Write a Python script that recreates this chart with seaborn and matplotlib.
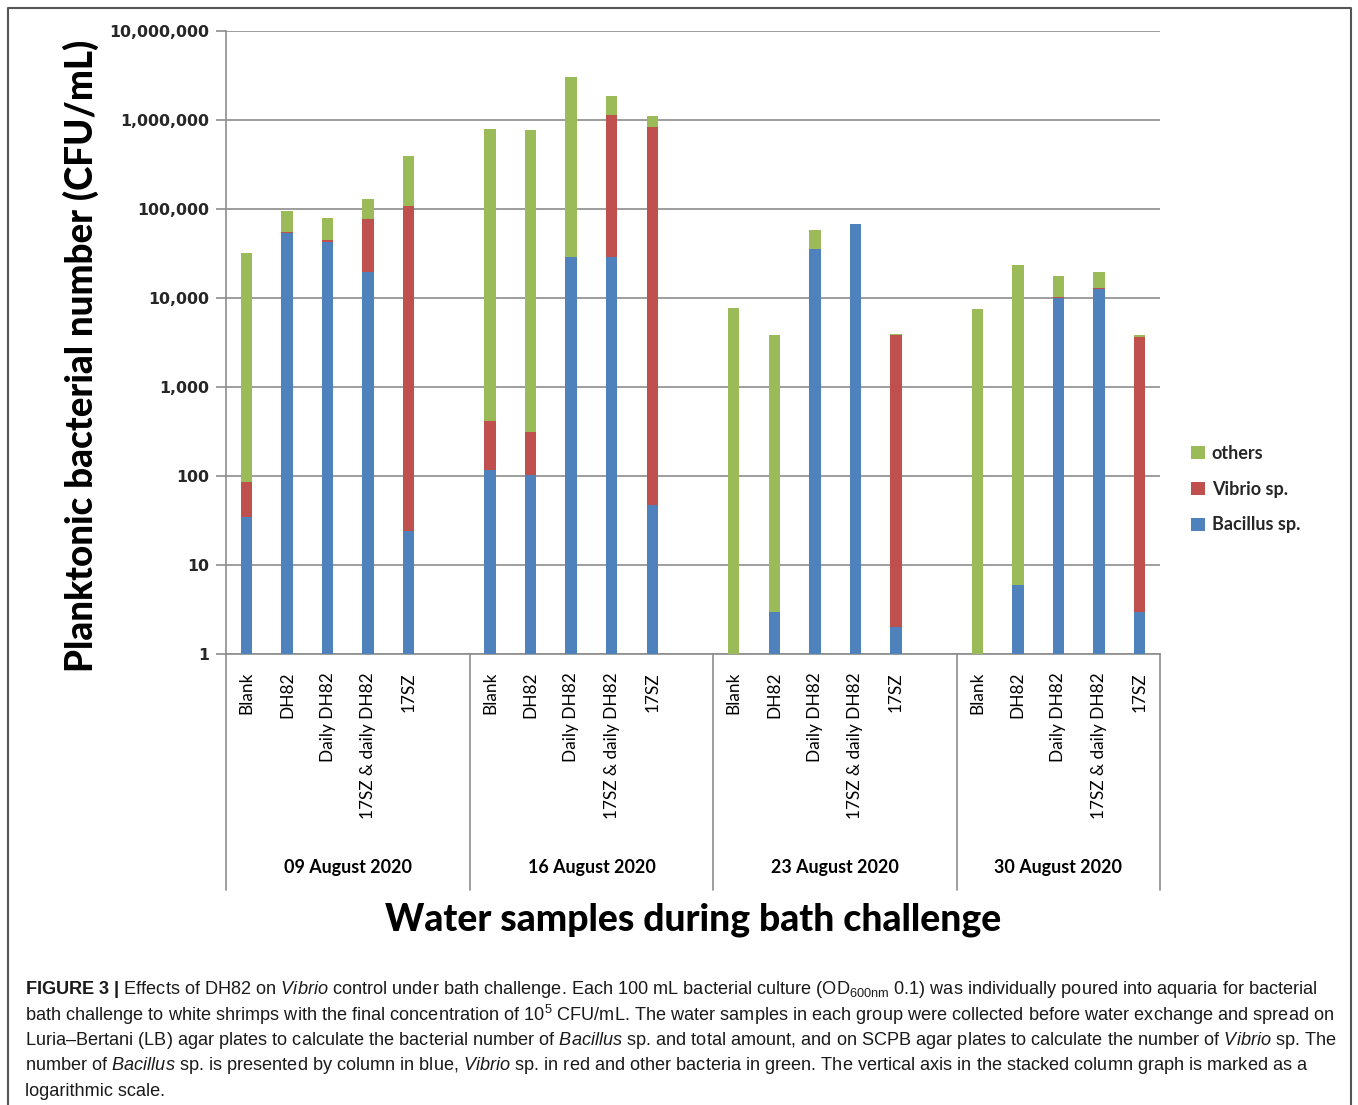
import numpy as np
import pandas as pd
import matplotlib
matplotlib.use("Agg")
import matplotlib.pyplot as plt
import matplotlib.transforms as mtransforms
from matplotlib.patches import Patch
from matplotlib.lines import Line2D
from matplotlib.ticker import FixedLocator, FuncFormatter, NullLocator
import seaborn as sns

# ---------------- data ----------------
dates = ["09 August 2020", "16 August 2020", "23 August 2020", "30 August 2020"]
samples = ["Blank", "DH82", "Daily DH82", "17SZ & daily DH82", "17SZ"]
bacillus = [[35, 53900, 43100, 19700, 24],
            [118, 103, 29200, 29200, 47],
            [0, 3, 35300, 67300, 2],
            [0, 6, 10000, 12500, 3]]
vibrio = [[50, 1100, 1400, 57400, 109000],
          [302, 209, 0, 1115800, 825000],
          [0, 0, 0, 0, 3870],
          [0, 0, 200, 400, 3670]]
others = [[32300, 40300, 34300, 50900, 284000],
          [790600, 773700, 3000000, 718000, 297000],
          [7800, 3870, 22100, 1400, 80],
          [7450, 23400, 7500, 6800, 120]]
y_ticks = [1, 10, 100, 1000, 10000, 100000, 1000000, 10000000]
legend_labels = ["others", "Vibrio sp.", "Bacillus sp."]

caption_lines = [
    r"$\mathbf{FIGURE\ 3\ |}$ Effects of DH82 on $\mathit{Vibrio}$ control under bath challenge. Each 100 mL bacterial culture (OD$_{\mathrm{600nm}}$ 0.1) was individually poured into aquaria for bacterial",
    r"bath challenge to white shrimps with the final concentration of 10$^{5}$ CFU/mL. The water samples in each group were collected before water exchange and spread on",
    r"Luria–Bertani (LB) agar plates to calculate the bacterial number of $\mathit{Bacillus}$ sp. and total amount, and on SCPB agar plates to calculate the number of $\mathit{Vibrio}$ sp. The",
    r"number of $\mathit{Bacillus}$ sp. is presented by column in blue, $\mathit{Vibrio}$ sp. in red and other bacteria in green. The vertical axis in the stacked column graph is marked as a",
    r"logarithmic scale.",
]

# ---------------- table ----------------
rows = []
for g, d in enumerate(dates):
    for i, s in enumerate(samples):
        rows.append(dict(pos=g * 6 + i, date=d, sample=s,
                         bacillus=bacillus[g][i], vibrio=vibrio[g][i], others=others[g][i]))
df = pd.DataFrame(rows)
df["bv"] = df["bacillus"] + df["vibrio"]
df["total"] = df["bv"] + df["others"]

GREEN, RED, BLUE = "#9BBB59", "#C0504D", "#4F81BD"
GRID = "#8c8c8c"

sns.set_theme(style="white")
plt.rcParams["font.family"] = ["Lato", "DejaVu Sans"]
plt.rcParams["mathtext.fontset"] = "custom"
plt.rcParams["mathtext.rm"] = "Liberation Sans"
plt.rcParams["mathtext.it"] = "Liberation Sans:italic"
plt.rcParams["mathtext.bf"] = "Liberation Sans:bold"

W, H = 1358, 1105
fig = plt.figure(figsize=(W / 100, H / 100), dpi=100)
fig.patch.set_facecolor("white")
L, R, T, B = 226, 1160, 31, 654
ax = fig.add_axes([L / W, 1 - B / H, (R - L) / W, (B - T) / H])

for col, c in [("total", GREEN), ("bv", RED), ("bacillus", BLUE)]:
    sns.barplot(data=df, x="pos", y=col, native_scale=True, color=c, saturation=1,
                width=0.28, errorbar=None, linewidth=0, ax=ax, zorder=3)

ax.set_yscale("log")
ax.set_ylim(1, 1e7)
ax.set_xlim(-0.5, 22.5)
ax.set_xlabel("")
ax.set_ylabel("")
ax.xaxis.set_major_locator(NullLocator())
ax.xaxis.set_minor_locator(NullLocator())
ax.yaxis.set_major_locator(FixedLocator(y_ticks))
ax.yaxis.set_minor_locator(NullLocator())
ax.yaxis.set_major_formatter(FuncFormatter(lambda v, p: f"{int(round(v)):,}"))
ax.tick_params(axis="y", which="major", length=7, width=1.2, color=GRID, pad=5,
               labelsize=11.3, left=True)
for lab in ax.get_yticklabels():
    lab.set_fontfamily("DejaVu Sans")
    lab.set_fontweight("bold")
ax.grid(axis="y", color=GRID, linewidth=1.2, zorder=0)
ax.set_axisbelow(True)
for side in ["top", "right"]:
    ax.spines[side].set_visible(False)
for side in ["left", "bottom"]:
    ax.spines[side].set_color(GRID)
    ax.spines[side].set_linewidth(1.2)

blend = mtransforms.blended_transform_factory(ax.transData, ax.transAxes)
sep_bottom = -(890 - B) / (B - T)
seps = [-0.5, 5.5, 11.5, 17.5, 22.5]
for xs in seps:
    ax.add_line(Line2D([xs, xs], [0, sep_bottom], transform=blend, color=GRID,
                       linewidth=1.2, clip_on=False))

fig.canvas.draw()
renderer = fig.canvas.get_renderer()


def fit(t, target, dim="w"):
    bb = t.get_window_extent(renderer)
    cur = bb.width if dim == "w" else bb.height
    t.set_fontsize(t.get_fontsize() * target / cur)


cat_texts = []
for _, r in df.iterrows():
    t = ax.text(r["pos"], -(672 - B) / (B - T), r["sample"], transform=blend, rotation=90,
                ha="center", va="top", fontsize=13, color="black", family=["Lato", "DejaVu Sans"])
    cat_texts.append(t)
fit(cat_texts[3], 146, "h")
for t in cat_texts:
    t.set_fontsize(cat_texts[3].get_fontsize())

grp_texts = []
for g, d in enumerate(dates):
    t = ax.text((seps[g] + seps[g + 1]) / 2, -(867 - B) / (B - T), d, transform=blend,
                ha="center", va="center", fontsize=14, fontweight="bold", color="black")
    grp_texts.append(t)
fit(grp_texts[0], 128, "w")
for t in grp_texts:
    t.set_fontsize(grp_texts[0].get_fontsize())

ylab = fig.text(81 / W, 1 - 356 / H, "Planktonic bacterial number (CFU/mL)", rotation=90,
                ha="center", va="center", fontsize=26, fontweight="black", color="black")
fit(ylab, 632, "h")
xlab = fig.text(693 / W, 1 - 920 / H, "Water samples during bath challenge", ha="center",
                va="center", fontsize=26, fontweight="black", color="black")
fit(xlab, 617, "w")

handles = [Patch(facecolor=GREEN, edgecolor="none"), Patch(facecolor=RED, edgecolor="none"),
           Patch(facecolor=BLUE, edgecolor="none")]
leg = fig.legend(handles, legend_labels, loc="center left",
                 bbox_to_anchor=(1191 / W, 1 - 489 / H), frameon=False,
                 borderaxespad=0, borderpad=0,
                 prop=dict(family="Lato", weight="bold", size=13),
                 handlelength=0.75, handleheight=0.75, handletextpad=0.4, labelspacing=1.05)

caps = []
for k, line in enumerate(caption_lines):
    t = fig.text(25 / W, 1 - (990 + k * 25.3) / H, line, ha="left", va="center",
                 fontsize=12, family="Liberation Sans", color="#1a1a1a")
    caps.append(t)
fit(caps[0], 1293, "w")
for t in caps:
    t.set_fontsize(caps[0].get_fontsize())

# figure frame (top, left, right)
frame_col = "#555555"
fig.add_artist(Line2D([8 / W, 8 / W, 1351 / W, 1351 / W], [0, 1 - 8 / H, 1 - 8 / H, 0],
                      transform=fig.transFigure, color=frame_col, linewidth=1.5))

fig.savefig("out.png", dpi=100)
